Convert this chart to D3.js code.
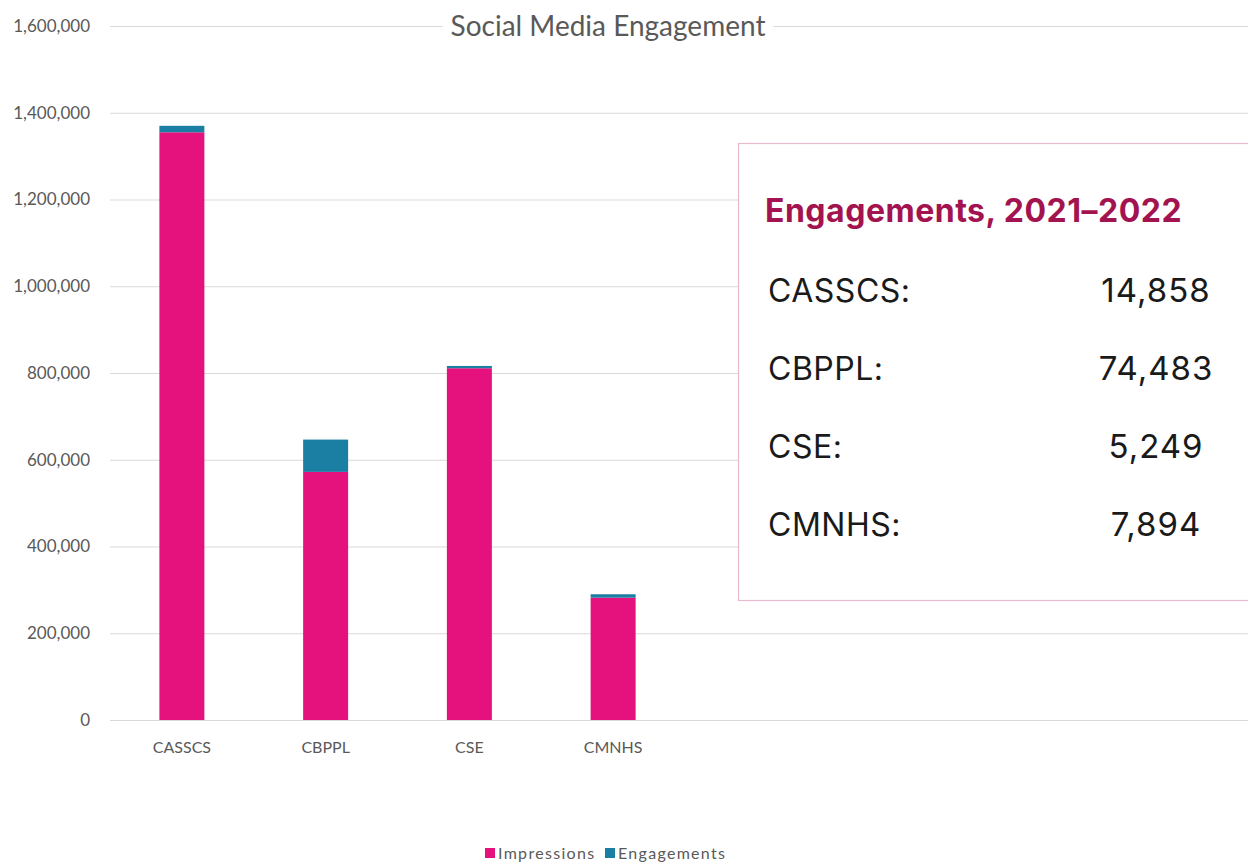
<!DOCTYPE html>
<html>
<head>
<meta charset="utf-8">
<script src="https://cdn.jsdelivr.net/npm/d3@7"></script>
<style>
  html, body { margin: 0; padding: 0; background: #fff; }
  svg { display: block; }
</style>
</head>
<body>
<svg id="chart" width="1248" height="862"></svg>
<script>
// Social media reach by college, stacked: impressions + engagements
const categories = ["CASSCS", "CBPPL", "CSE", "CMNHS"];
const impressions = [1355000, 572000, 811000, 282000];
const engagements = [14858, 74483, 5249, 7894];
const seriesNames = ["Impressions", "Engagements"];
const seriesColors = ["#E5127D", "#1A7FA3"];
const yTicks = [0, 200000, 400000, 600000, 800000, 1000000, 1200000, 1400000, 1600000];
const boxTitle = "Engagements, 2021\u20132022";

const svg = d3.select("#chart");
const plot = { left: 110, right: 1248, top: 26, bottom: 720 };

const y = d3.scaleLinear().domain([0, 1600000]).range([plot.bottom, plot.top]);
const x = d3.scaleBand().domain(categories).range([110, 685]).paddingInner(0.687).paddingOuter(0.3435);

const fmt = d3.format(",");
const grey = "#595959";
const axisFont = "Lato, 'Open Sans', sans-serif";
const panelFont = "Inter, 'Noto Sans', sans-serif";

// gridlines and value labels
const yAxis = d3.axisLeft(y).tickValues(yTicks).tickFormat(fmt)
  .tickSize(-(plot.right - plot.left)).tickPadding(20);
const gy = svg.append("g").attr("transform", `translate(${plot.left},0)`).call(yAxis);
gy.select(".domain").remove();
gy.selectAll(".tick line").attr("stroke", "#d9d9d9").attr("stroke-width", 1);
gy.selectAll(".tick text").attr("fill", grey)
  .style("font-family", axisFont).style("font-size", "17px");

// stacked bars
const rows = categories.map((c, i) => ({ cat: c, Impressions: impressions[i], Engagements: engagements[i] }));
const stack = d3.stack().keys(seriesNames)(rows);
svg.append("g").selectAll("g").data(stack).join("g")
  .attr("fill", (d, i) => seriesColors[i])
  .selectAll("rect").data(d => d).join("rect")
  .attr("x", d => x(d.data.cat))
  .attr("width", x.bandwidth())
  .attr("y", d => y(d[1]))
  .attr("height", d => y(d[0]) - y(d[1]));

// category labels
const xAxis = d3.axisBottom(x).tickSize(0).tickPadding(22);
const gx = svg.append("g").attr("transform", `translate(0,${plot.bottom})`).call(xAxis);
gx.select(".domain").remove();
gx.selectAll(".tick text").attr("fill", grey)
  .style("font-family", axisFont).style("font-size", "16px");

// title with white backing over the top gridline
const titleBg = svg.append("rect").attr("fill", "#fff");
const title = svg.append("text")
  .attr("x", 608).attr("y", 36).attr("text-anchor", "middle")
  .attr("fill", grey)
  .style("font-family", axisFont).style("font-size", "28px")
  .text("Social Media Engagement");
const tb = title.node().getBBox();
titleBg.attr("x", tb.x - 8).attr("y", tb.y).attr("width", tb.width + 16).attr("height", tb.height);

// legend
const legend = svg.append("g").attr("transform", "translate(485,859)");
const legendX = [0, 120];
seriesNames.forEach((name, i) => {
  const g = legend.append("g").attr("transform", `translate(${legendX[i]},0)`);
  g.append("rect").attr("x", 0).attr("y", -11).attr("width", 10).attr("height", 10).attr("fill", seriesColors[i]);
  g.append("text").attr("x", 13).attr("y", 0).attr("fill", grey)
    .style("font-family", axisFont).style("font-size", "16px")
    .style("letter-spacing", "1.3px")
    .text(name);
});

// engagements summary panel
const panel = svg.append("g");
panel.append("rect")
  .attr("x", 738.5).attr("y", 143.5).attr("width", 530).attr("height", 457)
  .attr("fill", "#fff").attr("stroke", "#ebb9cf").attr("stroke-width", 1.2);
panel.append("text")
  .attr("x", 765).attr("y", 222)
  .attr("fill", "#A3134F")
  .style("font-family", panelFont).style("font-weight", 700).style("font-size", "32px")
  .style("letter-spacing", "0.5px")
  .text(boxTitle);
const rowY = d3.scalePoint().domain(categories).range([302, 536]);
categories.forEach((c, i) => {
  panel.append("text")
    .attr("x", 768).attr("y", rowY(c))
    .attr("fill", "#1a1a1a")
    .style("font-family", panelFont).style("font-size", "32px")
    .style("letter-spacing", "0.5px")
    .text(c + ":");
  panel.append("text")
    .attr("x", 1156).attr("y", rowY(c)).attr("text-anchor", "middle")
    .attr("fill", "#1a1a1a")
    .style("font-family", panelFont).style("font-size", "33px")
    .style("letter-spacing", "1px")
    .text(fmt(engagements[i]));
});
</script>
</body>
</html>
